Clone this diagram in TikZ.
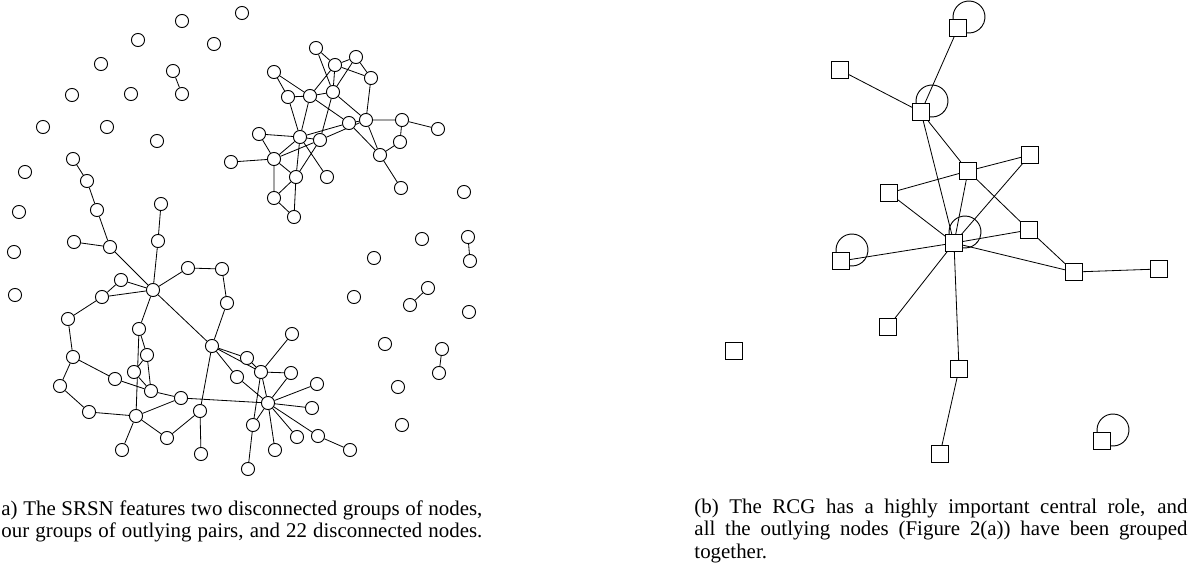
\documentclass[tikz,border=0pt]{standalone}
\usepackage{fontspec}
\setmainfont{Liberation Serif}
\usetikzlibrary{backgrounds}

\begin{document}
\begin{tikzpicture}[x=0.488pt, y=-0.488pt, line width=0.45pt,
	every node/.style={circle, draw, fill=white, inner sep=0pt, minimum size=6.4pt},
	sq/.style={rectangle, minimum size=8.3pt},
	captext/.style={draw=none, fill=none, rectangle, inner sep=0pt, anchor=base west, align=justify, font=\fontsize{10.2}{11.2}\selectfont}]

	\path[use as bounding box] (0,0) rectangle (1197,566);

	% (a) single nodes and pairs
	\foreach \x/\y [count=\i] in {242/13, 182/21, 138/40, 214/44, 101/64, 72/95, 131/94, 43/127, 107/127, 157/141, 25/172, 19/212, 14/252, 15/295, 464/192, 422/239, 374/258, 354/297, 469/312, 385/344, 398/387, 402/425}
		\node (s\i) at (\x,\y) {};

	\node (p1) at (173,71) {};
	\node (q1) at (182,94) {};
	\node (p2) at (468,237) {};
	\node (q2) at (470,261) {};
	\node (p3) at (428,288) {};
	\node (q3) at (410,305) {};
	\node (p4) at (442,349) {};
	\node (q4) at (439,373) {};

	% (a) upper group
	\node (t1) at (316,48) {};
	\node (t2) at (335,65) {};
	\node (t3) at (356,57) {};
	\node (t4) at (371,78) {};
	\node (t5) at (274,72) {};
	\node (t6) at (288,97) {};
	\node (t7) at (310,96) {};
	\node (t8) at (333,92) {};
	\node (t9) at (349,123) {};
	\node (t10) at (366,120) {};
	\node (t11) at (402,120) {};
	\node (t12) at (438,129) {};
	\node (t13) at (400,142) {};
	\node (t14) at (380,155) {};
	\node (t15) at (401,188) {};
	\node (t16) at (259,134) {};
	\node (t17) at (300,137) {};
	\node (t18) at (320,140) {};
	\node (t19) at (231,162) {};
	\node (t20) at (274,159) {};
	\node (t21) at (296,177) {};
	\node (t22) at (327,177) {};
	\node (t23) at (274,198) {};
	\node (t24) at (294,217) {};

	% (a) lower group
	\node (b1) at (73,159) {};
	\node (b2) at (87,181) {};
	\node (b3) at (97,210) {};
	\node (b4) at (161,204) {};
	\node (c1) at (74,242) {};
	\node (c2) at (110,247) {};
	\node (c3) at (158,241) {};
	\node (c4) at (153,290) {};
	\node (c5) at (121,280) {};
	\node (c6) at (102,297) {};
	\node (c7) at (188,268) {};
	\node (c8) at (222,269) {};
	\node (c9) at (227,303) {};
	\node (c10) at (68,319) {};
	\node (c11) at (139,329) {};
	\node (c12) at (212,346) {};
	\node (c13) at (73,357) {};
	\node (c14) at (147,355) {};
	\node (c15) at (134,372) {};
	\node (c16) at (115,379) {};
	\node (c17) at (60,386) {};
	\node (c18) at (151,391) {};
	\node (c19) at (181,398) {};
	\node (c20) at (89,412) {};
	\node (c21) at (136,416) {};
	\node (c22) at (200,411) {};
	\node (c23) at (167,438) {};
	\node (c24) at (122,450) {};
	\node (c25) at (201,454) {};
	\node (d0) at (268,403) {};
	\node (d1) at (247,358) {};
	\node (d2) at (261,372) {};
	\node (d3) at (237,377) {};
	\node (d4) at (292,334) {};
	\node (d5) at (291,373) {};
	\node (d6) at (317,384) {};
	\node (d7) at (312,408) {};
	\node (d8) at (253,425) {};
	\node (d9) at (297,437) {};
	\node (d10) at (318,436) {};
	\node (d11) at (350,450) {};
	\node (d12) at (275,450) {};
	\node (d13) at (248,469) {};

	\begin{scope}[on background layer]
	\draw (p1) -- (q1) (p2) -- (q2) (p3) -- (q3) (p4) -- (q4);
	\draw (t1) -- (t2) (t1) -- (t8) (t2) -- (t3) (t2) -- (t4) (t3) -- (t4)
		(t2) -- (t7) (t2) -- (t8) (t3) -- (t8) (t4) -- (t10)
		(t5) -- (t6) (t5) -- (t7) (t6) -- (t7) (t6) -- (t17) (t7) -- (t8)
		(t7) -- (t17) (t7) -- (t9) (t8) -- (t10) (t8) -- (t18) (t9) -- (t10)
		(t9) -- (t14) (t10) -- (t11) (t10) -- (t14) (t11) -- (t12) (t11) -- (t13)
		(t13) -- (t14) (t14) -- (t15) (t16) -- (t17) (t16) -- (t20) (t17) -- (t18)
		(t17) -- (t9) (t18) -- (t10) (t17) -- (t20) (t18) -- (t20) (t17) -- (t21)
		(t17) -- (t22) (t18) -- (t21) (t19) -- (t20) (t20) -- (t21) (t20) -- (t23)
		(t21) -- (t23) (t21) -- (t24) (t23) -- (t24);
	\draw (b1) -- (b2) (b2) -- (b3) (b3) -- (c2) (c1) -- (c2) (c2) -- (c4)
		(b4) -- (c3) (c3) -- (c4) (c4) -- (c5) (c4) -- (c6) (c5) -- (c6)
		(c4) -- (c7) (c7) -- (c8) (c8) -- (c9) (c9) -- (c12) (c4) -- (c12)
		(c4) -- (c11) (c6) -- (c10) (c10) -- (c13) (c13) -- (c16) (c13) -- (c17)
		(c17) -- (c20) (c20) -- (c21) (c16) -- (c18) (c11) -- (c21) (c11) -- (c14)
		(c14) -- (c15) (c14) -- (c18) (c15) -- (c18) (c18) -- (c19) (c19) -- (c21)
		(c21) -- (c23) (c21) -- (c24) (c23) -- (c22) (c22) -- (c25) (c12) -- (c22)
		(c19) -- (d0) (c12) -- (d1) (c12) -- (d2) (c12) -- (d3) (d1) -- (d2)
		(d2) -- (d4) (d2) -- (d5) (d2) -- (d0) (d3) -- (d0) (d2) -- (d8)
		(d0) -- (d5) (d0) -- (d6) (d0) -- (d7) (d0) -- (d9) (d0) -- (d10)
		(d0) -- (d12) (d0) -- (d8) (d10) -- (d11) (d8) -- (d13);
	\end{scope}

	% (b) grouped graph
	\node[sq] (r1) at (958,28) {};
	\node[sq] (r2) at (840,70) {};
	\node[sq] (r3) at (921,112) {};
	\node[sq] (r4) at (968,171) {};
	\node[sq] (r5) at (889,193) {};
	\node[sq] (r6) at (954,243) {};
	\node[sq] (r7) at (841,261) {};
	\node[sq] (r8) at (888,327) {};
	\node[sq] (r9) at (734,351) {};
	\node[sq] (r10) at (959,369) {};
	\node[sq] (r11) at (940,454) {};
	\node[sq] (r12) at (1029,230) {};
	\node[sq] (r13) at (1074,272) {};
	\node[sq] (r14) at (1159,269) {};
	\node[sq] (r15) at (1102,441) {};
	\node[sq] (r16) at (1030,155) {};

	\begin{scope}[on background layer]
	\draw (r1) -- (r3) (r2) -- (r3) (r3) -- (r4) (r3) -- (r6) (r4) -- (r5)
		(r4) -- (r6) (r4) -- (r16) (r4) -- (r12) (r5) -- (r6) (r16) -- (r6)
		(r6) -- (r7) (r6) -- (r8) (r6) -- (r10) (r6) -- (r12) (r6) -- (r13)
		(r12) -- (r13) (r13) -- (r14) (r10) -- (r11);
	\end{scope}

	\foreach \n in {r1,r3,r6,r7,r15}
		\draw ([shift={(-4.8,-8.5)}]\n.center) arc[start angle=189, end angle=-99, radius=7.8pt];

	% captions
	\node[captext, text width=234.7pt] (capa) at (1,515)
		{a) The SRSN features two disconnected groups of nodes,\linebreak our groups of outlying pairs, and 22 disconnected nodes.\parfillskip=0pt\par};
	\node[captext, text width=240.6pt] (capb) at (694,513)
		{(b) The RCG has a highly important central role, and\linebreak all the outlying nodes (Figure 2(a)) have been grouped\linebreak together.};
\end{tikzpicture}
\end{document}
